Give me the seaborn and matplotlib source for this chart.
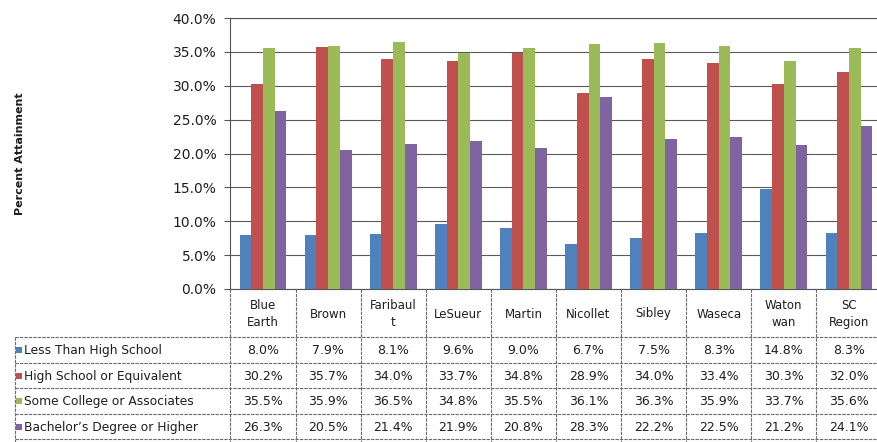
import matplotlib
matplotlib.use("Agg")
import matplotlib.pyplot as plt
import matplotlib.transforms as mtransforms
from matplotlib.patches import Rectangle
import seaborn as sns
import pandas as pd

# ---- data -------------------------------------------------------------
areas = ["Blue Earth", "Brown", "Faribault", "LeSueur", "Martin",
         "Nicollet", "Sibley", "Waseca", "Watonwan", "SC Region"]
area_headers = ["Blue\nEarth", "Brown", "Faribaul\nt", "LeSueur", "Martin",
                "Nicollet", "Sibley", "Waseca", "Waton\nwan", "SC\nRegion"]
levels = ["Less Than High School", "High School or Equivalent",
          "Some College or Associates", "Bachelor\u2019s Degree or Higher"]

less_than_hs = [8.0, 7.9, 8.1, 9.6, 9.0, 6.7, 7.5, 8.3, 14.8, 8.3]
hs_equivalent = [30.2, 35.7, 34.0, 33.7, 34.8, 28.9, 34.0, 33.4, 30.3, 32.0]
some_college = [35.5, 35.9, 36.5, 34.8, 35.5, 36.1, 36.3, 35.9, 33.7, 35.6]
bachelors_plus = [26.3, 20.5, 21.4, 21.9, 20.8, 28.3, 22.2, 22.5, 21.2, 24.1]

series = [less_than_hs, hs_equivalent, some_college, bachelors_plus]
colors = ["#4F81BD", "#C0504D", "#9BBB59", "#8064A2"]

yticks = [0, 5, 10, 15, 20, 25, 30, 35, 40]

df = pd.DataFrame(
    [(a, lvl, v) for lvl, vals in zip(levels, series) for a, v in zip(areas, vals)],
    columns=["Area", "Level", "Value"],
)

# ---- figure -----------------------------------------------------------
W, H = 878, 442
sns.set_theme(style="white")
plt.rcParams["font.family"] = ["DejaVu Sans"]
fig = plt.figure(figsize=(W / 100, H / 100), dpi=100)
fig.patch.set_facecolor("white")

left_px, right_px, top_px, bottom_px = 230.4, 881.5, 18, 289
ax = fig.add_axes([left_px / W, 1 - bottom_px / H,
                   (right_px - left_px) / W, (bottom_px - top_px) / H])

sns.barplot(data=df, x="Area", y="Value", hue="Level", palette=colors,
            width=0.72, saturation=1, legend=False, ax=ax, zorder=3,
            linewidth=0, edgecolor="none")

ax.set_ylim(0, 40)
ax.set_xlim(-0.5, len(areas) - 0.5)
ax.set_yticks(yticks)
ax.set_yticklabels([f"{t:.1f}%" for t in yticks], fontsize=10, color="#1e1e1e")
ax.tick_params(axis="y", which="major", left=True, length=4, width=0.8,
               color="#555555", pad=6)
ax.set_xticks([])
ax.set_xlabel("")
ax.set_ylabel("Percent Attainment", fontsize=8, fontweight="bold", color="#1e1e1e")
ax.yaxis.set_label_coords((25 - left_px) / (right_px - left_px), 0.5)
ax.grid(axis="y", color="#5a5a5a", linewidth=0.8, zorder=0)
ax.set_axisbelow(True)
for side in ["left", "top", "bottom", "right"]:
    ax.spines[side].set_color("#555555")
    ax.spines[side].set_linewidth(0.8)

# ---- data table below the chart -------------------------------------
ov = fig.add_axes([0, 0, 1, 1], facecolor="none")
ov.set_xlim(0, W)
ov.set_ylim(H, 0)
ov.axis("off")
# x follows the bar axes' category scale, y is in figure pixels
tr = mtransforms.blended_transform_factory(ax.transData, ov.transData)

line_kw = dict(color="#6a6a6a", linewidth=0.8, linestyle=(0, (3, 1)))
header_bottom = 337
row_h = 25.5
table_left = 15
n = len(areas)

# column separators
for k in range(n + 1):
    ov.plot([k - 0.5, k - 0.5], [bottom_px, H], transform=tr, **line_kw)
# legend column left border
ov.plot([table_left, table_left], [header_bottom, H], **line_kw)
# row separators
for r in range(len(levels) + 1):
    y = header_bottom + r * row_h
    ov.plot([table_left, right_px], [y, y], **line_kw)

# header labels
for i, lab in enumerate(area_headers):
    ov.text(i, (bottom_px + header_bottom) / 2 + 1, lab, transform=tr,
            ha="center", va="center", fontsize=8.5, color="#1e1e1e",
            linespacing=1.45)

# rows: legend key, label, values
for r, (lvl, vals, col) in enumerate(zip(levels, series, colors)):
    yc = header_bottom + r * row_h + row_h / 2 + 1
    ov.add_patch(Rectangle((16.5, yc - 3.5), 6, 6, facecolor=col,
                           edgecolor="none"))
    ov.text(24, yc, lvl, ha="left", va="center", fontsize=8.8, color="#1e1e1e")
    for i, v in enumerate(vals):
        ov.text(i, yc, f"{v:.1f}%", transform=tr, ha="center", va="center",
                fontsize=9, color="#1e1e1e")

fig.savefig("out.png", dpi=100, facecolor="white")
